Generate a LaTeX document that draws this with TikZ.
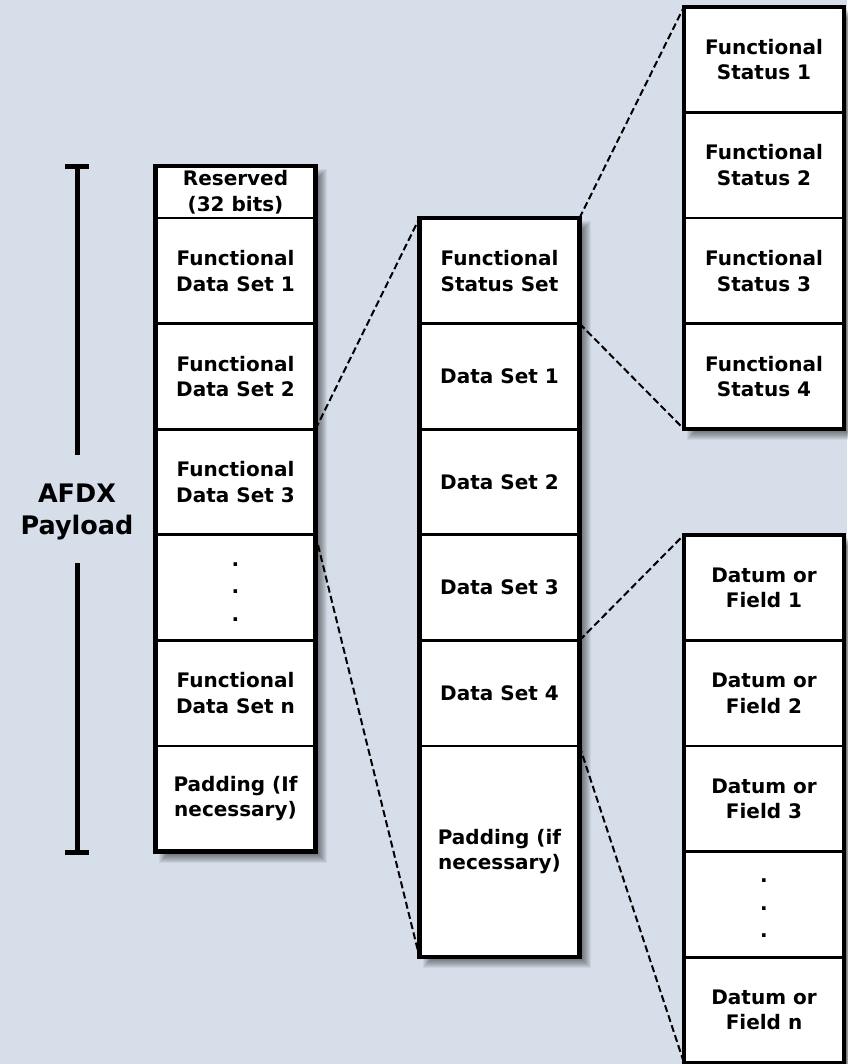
\documentclass[tikz,border=0pt]{standalone}
\usepackage{fontspec}
\setmainfont{DejaVu Sans}
\usetikzlibrary{calc}
\definecolor{bgblue}{RGB}{214,223,233}
\newcommand{\cellfont}{\fontsize{20}{25.5}\selectfont\bfseries}
\newcommand{\dotsfont}{\fontsize{20}{27.5}\selectfont\bfseries}
\newcommand{\labelfont}{\fontsize{25.5}{32}\selectfont\bfseries}
% soft drop shadow behind a column, given its two corner coordinates
\newcommand{\colshadow}[2]{%
  \foreach \d in {-4,...,4}{%
    \fill[black,opacity=0.06]
      ($(#1)+(7+\d,7+\d)$) rectangle ($(#2)+(7-\d,7-\d)$);
  }%
}
\begin{document}
\begin{tikzpicture}[x=1pt,y=-1pt,
  cell/.style={draw, line width=2.8pt, fill=white, minimum width=160,
    minimum height=105.6, inner sep=0, outer sep=0, align=center,
    font=\cellfont},
  dotcell/.style={cell, font=\dotsfont},
  frame/.style={draw, line width=4.5pt},
  zoomline/.style={line width=2pt, dash pattern=on 7pt off 3.5pt},
  bracket/.style={line width=5pt},
]
\useasboundingbox (0,0) rectangle (847,1064);
\fill[bgblue] (0,0) rectangle (847,1064);

% column corners used for the shadows
\coordinate (Lnw) at (155.5,166);  \coordinate (Lse) at (315.5,851.6);
\coordinate (Mnw) at (419.5,218);  \coordinate (Mse) at (579.5,957.2);
\coordinate (Tnw) at (684,6.8);    \coordinate (Tse) at (844,429.2);
\coordinate (Bnw) at (684,534.8);  \coordinate (Bse) at (844,1062.8);
\colshadow{Lnw}{Lse}
\colshadow{Mnw}{Mse}
\colshadow{Tnw}{Tse}
\colshadow{Bnw}{Bse}

% AFDX payload column
\node[cell, minimum height=52] (L0) at (235.5,192) {Reserved\\(32 bits)};
\node[cell] (L1) at (235.5,270.8) {Functional\\Data Set 1};
\node[cell] (L2) at (235.5,376.4) {Functional\\Data Set 2};
\node[cell] (L3) at (235.5,482.0) {Functional\\Data Set 3};
\node[dotcell] (L4) at (235.5,587.6) {\rule{0pt}{12pt}.\\.\\.};
\node[cell] (L5) at (235.5,693.2) {Functional\\Data Set n};
\node[cell] (L6) at (235.5,798.8) {Padding (If\\necessary)};
\draw[frame] (L0.north west) rectangle (L6.south east);

% functional data set column
\node[cell] (M1) at (499.5,270.8) {Functional\\Status Set};
\node[cell] (M2) at (499.5,376.4) {Data Set 1};
\node[cell] (M3) at (499.5,482.0) {Data Set 2};
\node[cell] (M4) at (499.5,587.6) {Data Set 3};
\node[cell] (M5) at (499.5,693.2) {Data Set 4};
\node[cell, minimum height=211.2] (M6) at (499.5,851.6) {Padding (if\\necessary)};
\draw[frame] (M1.north west) rectangle (M6.south east);

% functional status column
\node[cell] (T1) at (764,59.6)  {Functional\\Status 1};
\node[cell] (T2) at (764,165.2) {Functional\\Status 2};
\node[cell] (T3) at (764,270.8) {Functional\\Status 3};
\node[cell] (T4) at (764,376.4) {Functional\\Status 4};
\draw[frame] (T1.north west) rectangle (T4.south east);

% data set column
\node[cell] (B1) at (764,587.6)  {Datum or\\Field 1};
\node[cell] (B2) at (764,693.2)  {Datum or\\Field 2};
\node[cell] (B3) at (764,798.8)  {Datum or\\Field 3};
\node[dotcell] (B4) at (764,904.4)  {\rule{0pt}{12pt}.\\.\\.};
\node[cell] (B5) at (764,1010.0) {Datum or\\Field n};
\draw[frame] (B1.north west) rectangle (B5.south east);

% expansion lines
\draw[zoomline] (L3.north east) -- (M1.north west);
\draw[zoomline] (L3.south east) -- (M6.south west);
\draw[zoomline] (M1.north east) -- (T1.north west);
\draw[zoomline] (M1.south east) -- (T4.south west);
\draw[zoomline] (M4.south east) -- (B1.north west);
\draw[zoomline] (M5.south east) -- (B5.south west);

% payload extent bracket
\node[font=\labelfont, align=center] (afdx) at (77,512) {AFDX\\Payload};
\coordinate (btop) at (77,167);
\coordinate (gtop) at (77,455);
\coordinate (gbot) at (77,563);
\coordinate (bbot) at (77,852);
\draw[bracket] (btop) -- (gtop);
\draw[bracket] (gbot) -- (bbot);
\draw[bracket] ($(btop)+(-12,0)$) -- ($(btop)+(12,0)$);
\draw[bracket] ($(bbot)+(-12,0)$) -- ($(bbot)+(12,0)$);
\end{tikzpicture}
\end{document}
